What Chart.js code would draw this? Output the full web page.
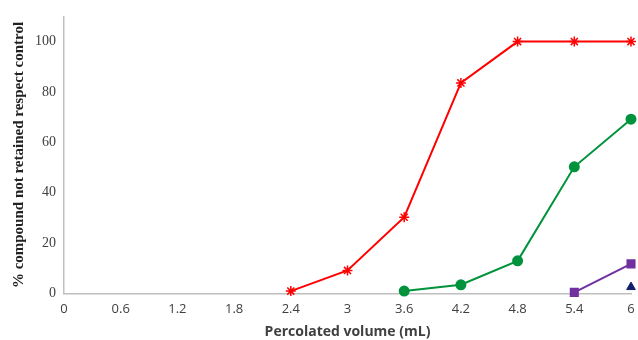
<!DOCTYPE html>
<html>
<head>
<meta charset="utf-8">
<script src="https://cdn.jsdelivr.net/npm/chart.js@4/dist/chart.umd.min.js"></script>
<style>
  html, body { margin: 0; padding: 0; background: #fff; }
  #wrap { width: 638px; height: 340px; }
</style>
</head>
<body>
<div id="wrap"><canvas id="chart"></canvas></div>
<script>
const xTicks = [0, 0.6, 1.2, 1.8, 2.4, 3, 3.6, 4.2, 4.8, 5.4, 6];
const yTicks = [0, 20, 40, 60, 80, 100];

const redX = [2.4, 3, 3.6, 4.2, 4.8, 5.4, 6];
const redY = [1, 9.2, 30.3, 83.6, 100, 100, 100];
const greenX = [3.6, 4.2, 4.8, 5.4, 6];
const greenY = [1, 3.5, 13, 50.3, 69.2];
const purpleX = [5.4, 6];
const purpleY = [0.5, 11.8];
const blueX = [6];
const blueY = [2.6];

const pts = (xs, ys) => xs.map((x, i) => ({ x: x, y: ys[i] }));

const ctx = document.getElementById('chart').getContext('2d');
new Chart(ctx, {
    type: 'line',
    data: {
        datasets: [
            {
                data: pts(redX, redY),
                borderColor: '#ff0000',
                backgroundColor: '#ff0000',
                borderWidth: 2,
                pointStyle: 'star',
                pointRadius: 5,
                pointBorderWidth: 1.5,
                clip: false
            },
            {
                data: pts(greenX, greenY),
                borderColor: '#00933c',
                backgroundColor: '#00933c',
                borderWidth: 2,
                pointStyle: 'circle',
                pointRadius: 4.5,
                clip: false
            },
            {
                data: pts(purpleX, purpleY),
                borderColor: '#7030a0',
                backgroundColor: '#7030a0',
                borderWidth: 2,
                pointStyle: 'rect',
                pointRadius: 5,
                clip: false
            },
            {
                data: pts(blueX, blueY),
                borderColor: '#10206a',
                backgroundColor: '#10206a',
                showLine: false,
                pointStyle: 'triangle',
                pointRadius: 5,
                clip: false
            }
        ]
    },
    options: {
        animation: false,
        responsive: true,
        maintainAspectRatio: false,
        layout: { padding: { top: 14, right: 0, left: 10, bottom: 0 } },
        plugins: { legend: { display: false }, tooltip: { enabled: false } },
        scales: {
            x: {
                type: 'linear',
                min: 0,
                max: 6,
                afterBuildTicks: axis => { axis.ticks = xTicks.map(v => ({ value: v })); },
                afterFit: axis => { axis.paddingRight = 5; },
                grid: { display: false, drawTicks: false },
                border: { color: '#bfbfbf', width: 1.5 },
                ticks: {
                    color: '#404040',
                    font: { family: 'Open Sans', size: 13 },
                    padding: 8,
                    maxRotation: 0,
                    callback: v => String(v)
                },
                title: {
                    display: true,
                    text: 'Percolated volume (mL)',
                    color: '#404040',
                    font: { family: 'Open Sans', size: 14, weight: 'bold' },
                    padding: { top: -2, bottom: 0 }
                }
            },
            y: {
                min: 0,
                max: 110,
                afterBuildTicks: axis => { axis.ticks = yTicks.map(v => ({ value: v })); },
                grid: { display: false, drawTicks: false },
                border: { color: '#bfbfbf', width: 1.5 },
                ticks: {
                    color: '#404040',
                    font: { family: 'Liberation Serif', size: 14 },
                    padding: 8
                },
                title: {
                    display: true,
                    text: '% compound not retained respect control',
                    color: '#222',
                    font: { family: 'Liberation Serif', size: 15, weight: 'bold' },
                    padding: { top: 0, bottom: -1 }
                }
            }
        }
    }
});
</script>
</body>
</html>
